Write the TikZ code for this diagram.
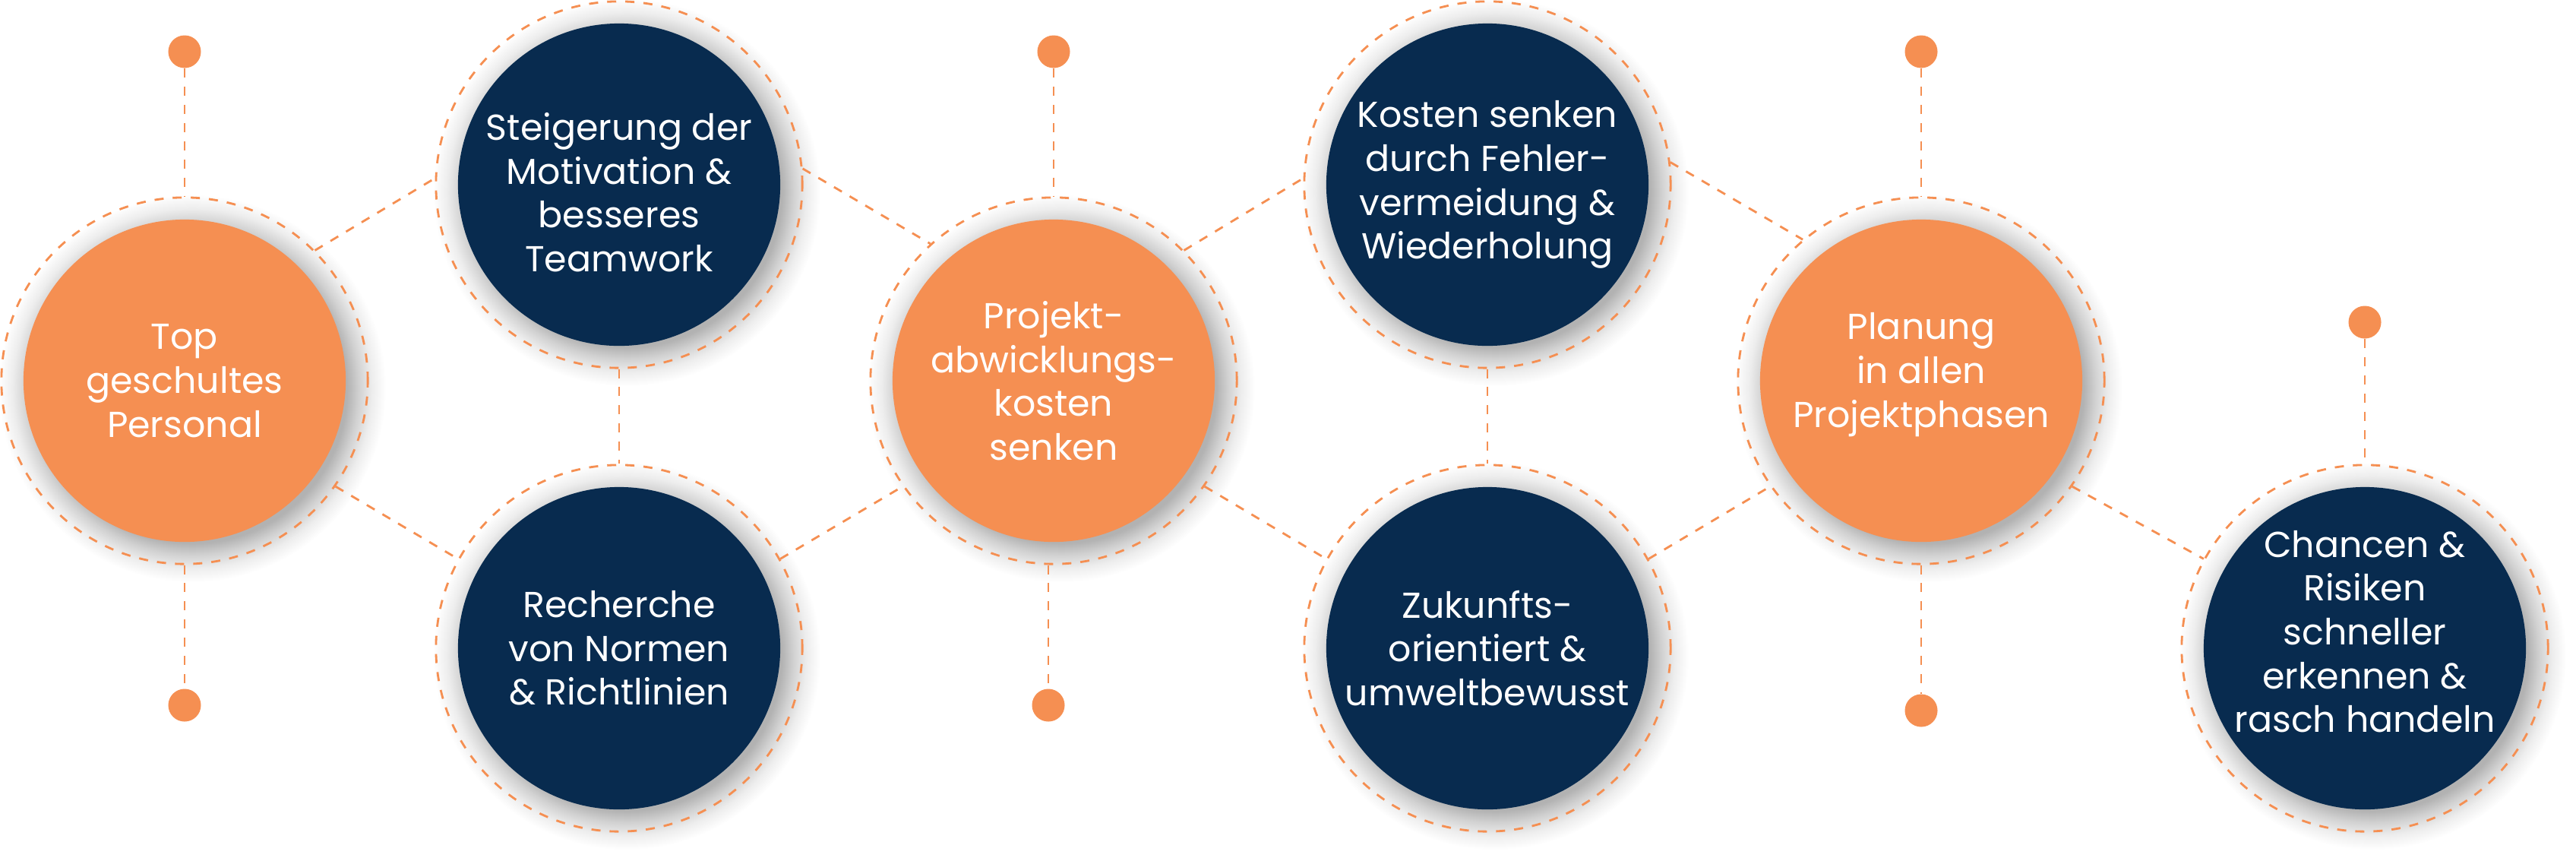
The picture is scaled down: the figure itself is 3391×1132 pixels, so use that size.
\documentclass[tikz,border=0pt]{standalone}
\usepackage{fontspec}
\setmainfont{Poppins}
\definecolor{org}{HTML}{F58F52}
\definecolor{navy}{HTML}{082B4F}
\pgfdeclareradialshading{softshadow}{\pgfpoint{0bp}{0bp}}{color(0bp)=(black!30); color(20bp)=(black!30); color(21.5bp)=(black!18); color(23.2bp)=(black!7); color(25bp)=(white); color(50bp)=(white)}
\begin{document}
\begin{tikzpicture}[x=0.01cm,y=-0.01cm,
  ring/.style={circle, draw=org, line width=0.8pt, dash pattern=on 3.4pt off 3.4pt, minimum size=4.82cm, inner sep=0pt},
  orgdisc/.style={circle, fill=org, minimum size=4.24cm, inner sep=0pt},
  navydisc/.style={circle, fill=navy, minimum size=4.24cm, inner sep=0pt},
  dot/.style={circle, fill=org, minimum size=0.43cm, inner sep=0pt},
  link/.style={draw=org, line width=0.8pt, dash pattern=on 3.4pt off 3.4pt},
  label/.style={text=white, align=center, font=\fontsize{13.5}{16.4}\selectfont, inner sep=0pt},
  shadowdisc/.style={shading=softshadow}
]
\useasboundingbox (0,0) rectangle (3391,1132);
\coordinate (p1) at (243,501);
\coordinate (p2) at (815,243);
\coordinate (p3) at (815,853);
\coordinate (p4) at (1387,501);
\coordinate (p5) at (1958,243);
\coordinate (p6) at (1958,853);
\coordinate (p7) at (2529,501);
\coordinate (p8) at (3113,853);
% shadows
\foreach \p in {p1,p2,p3,p4,p5,p6,p7,p8}
  \shade[shadowdisc] ([shift={(10,10)}]\p) circle (255);
% rings
\foreach \i in {1,...,8}
  \node[ring] (r\i) at (p\i) {};
% dots
\node[dot] (d1t) at (243,68) {};
\node[dot] (d1b) at (243,928) {};
\node[dot] (d4t) at (1387,68) {};
\node[dot] (d4b) at (1380,928) {};
\node[dot] (d7t) at (2529,68) {};
\node[dot] (d7b) at (2529,935) {};
\node[dot] (d8t) at (3113,424) {};
% vertical links
\draw[link] (d1t) -- (r1);
\draw[link] (r1) -- (d1b);
\draw[link] (d4t) -- (r4);
\draw[link] (d4b |- r4.south) -- (d4b);
\draw[link] (d7t) -- (r7);
\draw[link] (r7) -- (d7b);
\draw[link] (d8t) -- (r8);
\draw[link] (r2) -- (r3);
\draw[link] (r5) -- (r6);
% diagonal links
\draw[link] (r1.45) -- (r2.178);
\draw[link] (r1.-35) -- (r3.151);
\draw[link] (r2.5) -- (r4.132);
\draw[link] (r3.29) -- (r4.215);
\draw[link] (r4.45) -- (r5.178);
\draw[link] (r4.-35) -- (r6.151);
\draw[link] (r5.7) -- (r7.130);
\draw[link] (r6.29) -- (r7.215);
\draw[link] (r7.-35) -- (r8.151);
% discs
\node[orgdisc] (c1) at (p1) {};
\node[navydisc] (c2) at (p2) {};
\node[navydisc] (c3) at (p3) {};
\node[orgdisc] (c4) at (p4) {};
\node[navydisc] (c5) at (p5) {};
\node[navydisc] (c6) at (p6) {};
\node[orgdisc] (c7) at (p7) {};
\node[navydisc] (c8) at (p8) {};
% texts
\node[label] (t1) at (c1) {Top\\geschultes\\Personal};
\node[label] (t2) at ([yshift=-0.1cm]c2) {Steigerung der\\Motivation \&\\besseres\\Teamwork};
\node[label] (t3) at (c3) {Recherche\\von Normen\\\& Richtlinien};
\node[label] (t4) at (c4) {Projekt-\\abwicklungs-\\kosten\\senken};
\node[label] (t5) at (c5) {Kosten senken\\durch Fehler-\\vermeidung \&\\Wiederholung};
\node[label] (t6) at (c6) {Zukunfts-\\orientiert \&\\umweltbewusst};
\node[label] (t7) at ([yshift=0.08cm]c7) {Planung\\in allen\\Projektphasen};
\node[label] (t8) at ([yshift=0.22cm]c8) {Chancen \&\\Risiken\\schneller\\erkennen \&\\rasch handeln};
\end{tikzpicture}
\end{document}
